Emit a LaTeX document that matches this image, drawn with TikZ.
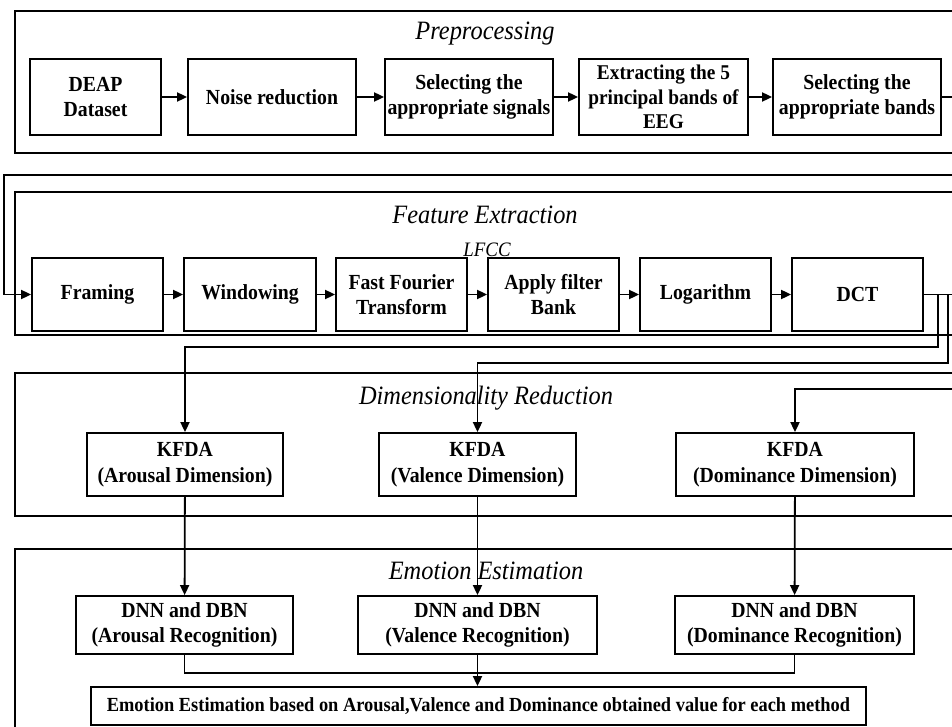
\documentclass[tikz,border=0pt]{standalone}
\usepackage{fontspec}
\setmainfont{Liberation Serif}
\newfontfamily\condfont[FakeStretch=0.92]{Liberation Serif}
\usetikzlibrary{arrows.meta}
\tikzset{
  panel/.style={draw, line width=2pt},
  box/.style={draw, line width=1.8pt, align=center, inner sep=0pt,
    font=\condfont\fontsize{21.5}{25.5}\selectfont\bfseries},
  ptitle/.style={font=\condfont\fontsize{26.5}{28}\selectfont\itshape, inner sep=0pt},
  conn/.style={line width=1.8pt},
  arr/.style={line width=1.8pt, -{Triangle[length=10pt,width=9pt]}},
}
\begin{document}
\begin{tikzpicture}[x=1pt,y=-1pt]
\useasboundingbox (0,0) rectangle (952,727);
\clip (0,0) rectangle (952,727);
% panels
\draw[panel] (980,11) -- (15,11) -- (15,153) -- (980,153);
\draw[panel] (980,192) -- (15,192) -- (15,335) -- (980,335);
\draw[panel] (980,373) -- (15,373) -- (15,516) -- (980,516);
\draw[panel] (980,549) -- (15,549) -- (15,760);
% titles
\node[ptitle] (t1) at (485,34) {Preprocessing};
\node[ptitle] (t2) at (485,215) {Feature Extraction};
\node[font=\condfont\fontsize{20.5}{22}\selectfont\itshape, inner sep=0pt] (lfcc) at (487,250) {LFCC};
\node[ptitle] (t3) at (486,398) {Dimensionality Reduction};
\node[ptitle] (t4) at (486,571) {Emotion Estimation};
% preprocessing boxes
\node[box, minimum width=131, minimum height=76] (deap) at (95.5,97) {DEAP\\Dataset};
\node[box, minimum width=168, minimum height=76] (noise) at (272,97) {Noise reduction};
\node[box, minimum width=168, minimum height=76] (selsig) at (469,97) {Selecting the\\appropriate signals};
\node[box, minimum width=169, minimum height=76, font=\condfont\fontsize{21}{24.5}\selectfont\bfseries] (extr) at (663.5,97) {Extracting the 5\\principal bands of\\EEG};
\node[box, minimum width=168, minimum height=76] (selband) at (857,97) {Selecting the\\appropriate bands};
% feature extraction boxes
\node[box, minimum width=131, minimum height=73] (fram) at (97.5,294.5) {Framing};
\node[box, minimum width=132, minimum height=73] (wind) at (250,294.5) {Windowing};
\node[box, minimum width=131, minimum height=73] (fft) at (401.5,294.5) {Fast Fourier\\Transform};
\node[box, minimum width=131, minimum height=73] (filt) at (553.5,294.5) {Apply filter\\Bank};
\node[box, minimum width=131, minimum height=73] (logn) at (705.5,294.5) {Logarithm};
\node[box, minimum width=131, minimum height=73] (dct) at (857.5,294.5) {DCT};
% KFDA boxes
\node[box, minimum width=196, minimum height=63] (ka) at (185,464.5) {KFDA\\(Arousal Dimension)};
\node[box, minimum width=197, minimum height=63] (kv) at (477.5,464.5) {KFDA\\(Valence Dimension)};
\node[box, minimum width=238, minimum height=63] (kd) at (795,464.5) {KFDA\\(Dominance Dimension)};
% DNN boxes
\node[box, minimum width=217, minimum height=58] (da) at (184.5,625) {DNN and DBN\\(Arousal Recognition)};
\node[box, minimum width=239, minimum height=58] (dv) at (477.5,625) {DNN and DBN\\(Valence Recognition)};
\node[box, minimum width=239, minimum height=58] (dd) at (794.5,625) {DNN and DBN\\(Dominance Recognition)};
\node[box, minimum width=775, minimum height=38, font=\condfont\fontsize{20}{22}\selectfont\bfseries] (final) at (478.5,706)
  {Emotion Estimation based on Arousal,Valence and Dominance obtained value for each method};
% coordinates for off-image routing
\coordinate (r1) at (975,97);
\coordinate (r2) at (975,175);
\coordinate (l1) at (4,175);
\coordinate (b1) at (938,294.5);
\coordinate (b2) at (948,294.5);
\coordinate (r3) at (975,294.5);
\coordinate (r4) at (975,389);
\coordinate (j) at (477.5,673);
% connectors
\draw[arr] (deap) -- (noise);
\draw[arr] (noise) -- (selsig);
\draw[arr] (selsig) -- (extr);
\draw[arr] (extr) -- (selband);
\draw[arr] (selband.east) -- (r1) -- (r2) -- (l1) |- (fram.west);
\draw[arr] (fram) -- (wind);
\draw[arr] (wind) -- (fft);
\draw[arr] (fft) -- (filt);
\draw[arr] (filt) -- (logn);
\draw[arr] (logn) -- (dct);
\draw[arr] (dct.east) -- (b1) -- ++(0,52.5) -| (ka.north);
\draw[arr] (b2) -- ++(0,68.5) -| (kv.north);
\draw[arr] (dct.east) -- (r3) -- (r4) -| (kd.north);
\draw[arr] (ka) -- (da);
\draw[arr] (kv) -- (dv);
\draw[arr] (kd) -- (dd);
\draw[conn] (da.south) |- (j);
\draw[conn] (dd.south) |- (j);
\draw[arr] (dv.south) -- (final.north -| dv.south);
\end{tikzpicture}
\end{document}
